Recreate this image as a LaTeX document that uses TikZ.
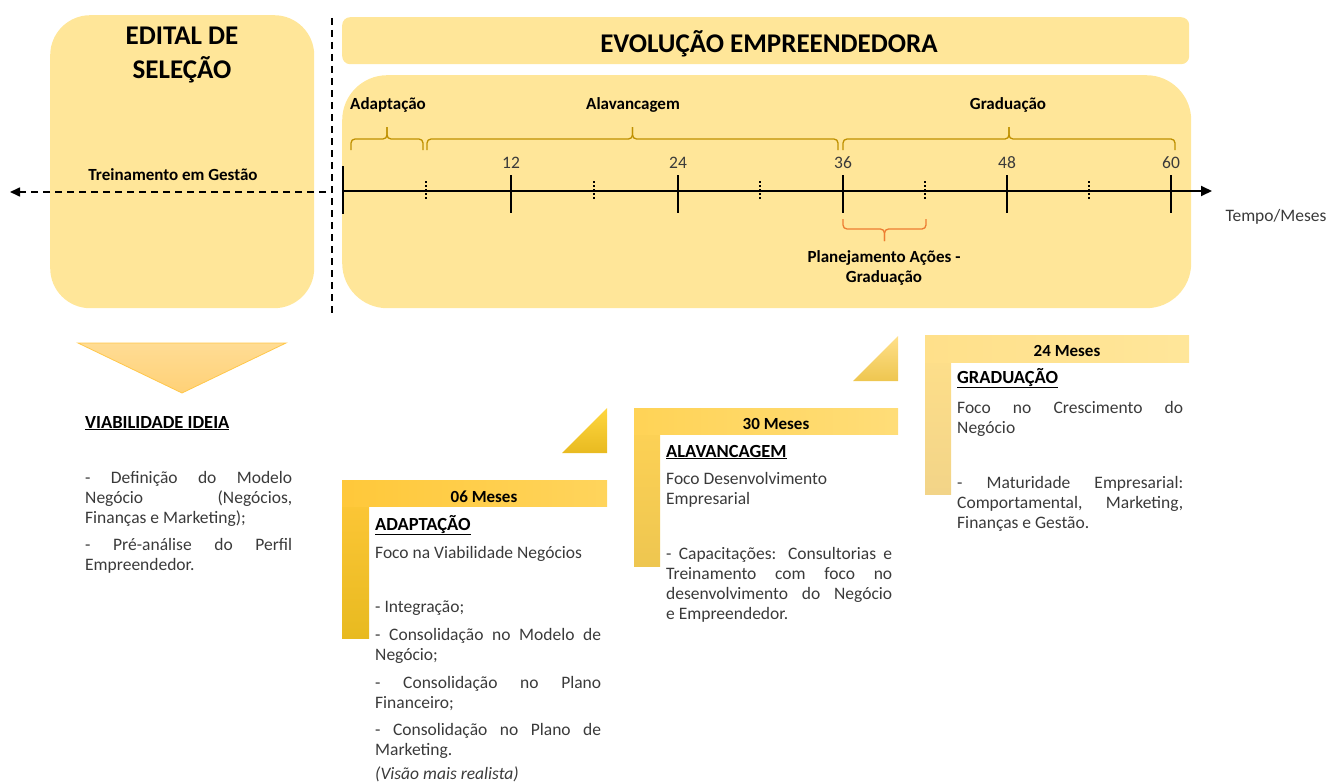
\documentclass[tikz,border=0pt]{standalone}
\usepackage{fontspec}
\setmainfont{Carlito}
\usetikzlibrary{arrows.meta}
\setlength\parindent{0pt}
\definecolor{panel}{HTML}{FFE699}
\definecolor{braceG}{HTML}{BF9000}
\definecolor{braceO}{HTML}{ED7D31}
\definecolor{txt}{HTML}{3A3A3A}
\definecolor{gA}{HTML}{FFC83A}
\definecolor{gAr}{HTML}{FFD45C}
\definecolor{gAm}{HTML}{FFCC1A}
\definecolor{gAb}{HTML}{E8BA20}
\definecolor{gB}{HTML}{FFD356}
\definecolor{gBr}{HTML}{FFDD78}
\definecolor{gBm}{HTML}{FFD740}
\definecolor{gBb}{HTML}{EEC650}
\definecolor{gC}{HTML}{FFE08A}
\definecolor{gCr}{HTML}{FFE69A}
\definecolor{gCm}{HTML}{FFDF7A}
\definecolor{gCb}{HTML}{F2D488}
\definecolor{triT}{HTML}{FFDC94}
\definecolor{triB}{HTML}{FFD177}
\definecolor{triE}{HTML}{FFC74A}
\newcommand\fsz[2]{\fontsize{#1}{#2}\selectfont}
\newcommand\fs{\rule{0pt}{15pt}}
\hyphenpenalty=10000
\exhyphenpenalty=10000
\begin{document}
\begin{tikzpicture}[x=1pt,y=-1pt,
  panelbox/.style={fill=panel, draw=none, anchor=north west, inner sep=0},
  title/.style={font=\fsz{27}{30}\bfseries, anchor=base, inner sep=0},
  lbl/.style={font=\fsz{17}{20}\bfseries, anchor=base, inner sep=0},
  num/.style={font=\fsz{17.5}{20}, text=txt, anchor=base, inner sep=0},
  head/.style={font=\fsz{18.5}{20}\bfseries, anchor=base west, inner sep=0},
  body/.style={anchor=north west, inner sep=0, align=justify, font=\fsz{17.5}{20}, text=txt},
  brG/.style={draw=braceG, line width=1.3pt, rounded corners=4pt},
  brO/.style={draw=braceO, line width=1.3pt, rounded corners=4pt},
  axis/.style={line width=1.8pt},
  majtick/.style={line width=1.8pt},
  mintick/.style={line width=1.6pt, dash pattern=on 2pt off 2pt},
  dashline/.style={line width=1.6pt, dash pattern=on 7pt off 5pt}
]
\useasboundingbox (0,0) rectangle (1328,784);

% panels
\node[panelbox, rounded corners=40pt, minimum width=264pt, minimum height=293pt] (edital) at (50,15) {};
\node[panelbox, rounded corners=8pt, minimum width=847pt, minimum height=47pt] (banner) at (342,17) {};
\node[panelbox, rounded corners=45pt, minimum width=849pt, minimum height=233pt] (evol) at (342,75) {};

% titles
\node[title] (t1) at (182,45) {EDITAL DE};
\node[title] (t2) at (182,78) {SELEÇÃO};
\node[title] (t3) at (769,53) {EVOLUÇÃO EMPREENDEDORA};
\node[lbl] (treino) at (173,180) {Treinamento em Gestão};

% separators
\coordinate (vtop) at (332,18);
\coordinate (vbot) at (332,315);
\draw[dashline] (vtop) -- (vbot);
\coordinate (dstart) at (326,192);
\coordinate (dend) at (10,192);
\draw[dashline, -{Triangle[length=10pt,width=9pt]}] (dstart) -- (dend);

% timeline
\coordinate (ax0) at (343,191);
\coordinate (axend) at (1212,191);
\draw[axis, -{Triangle[length=11pt,width=10pt]}] (ax0) -- (axend);
\coordinate (s0) at (343,166);
\coordinate (s1) at (343,214);
\draw[majtick] (s0) -- (s1);
\foreach \x/\n in {511/12,678/24,843/36,1007/48,1171/60}{
  \coordinate (tk\n a) at (\x,175);
  \coordinate (tk\n b) at (\x,213);
  \draw[majtick] (tk\n a) -- (tk\n b);
  \node[num] (n\n) at (\x,168.5) {\n};
}
\foreach \x [count=\i] in {426,594,760,925,1089}{
  \coordinate (mt\i a) at (\x,181);
  \coordinate (mt\i b) at (\x,200);
  \draw[mintick] (mt\i a) -- (mt\i b);
}

% braces (Word style: hooks, flat bar, small tip)
\foreach \a/\b/\nm in {351/423/ba, 427/838/bb, 843/1175/bc}{
  \pgfmathsetmacro\m{(\a+\b)/2}
  \coordinate (\nm L) at (\a,150);
  \coordinate (\nm R) at (\b,150);
  \coordinate (\nm T) at (\m,127);
  \draw[brG] (\nm L) -- (\a,139) -- (\m,139) -- (\nm T);
  \draw[brG] (\nm R) -- (\b,139) -- (\m,139) -- (\nm T);
}
\node[lbl] (ladapt) at (388,110) {Adaptação};
\node[lbl] (lalav) at (633,110) {Alavancagem};
\node[lbl] (lgrad) at (1008,110) {Graduação};
\coordinate (boL) at (843,219);
\coordinate (boR) at (926,219);
\coordinate (boT) at (884.5,241);
\draw[brO] (boL) -- (843,229) -- (884.5,229) -- (boT);
\draw[brO] (boR) -- (926,229) -- (884.5,229) -- (boT);
\node[lbl] (plan1) at (884,262.5) {Planejamento Ações -};
\node[lbl] (plan2) at (884,282.5) {Graduação};
\node[num] (tempo) at (1276,221.5) {Tempo/Meses};

% down triangle
\shadedraw[top color=triT, bottom color=triB, draw=triE, line width=0.8pt] (78,343) -- (286,343) -- (182,393) -- cycle;

% Viabilidade
\node[head] (hviab) at (85,428) {\underline{VIABILIDADE IDEIA}};
\node[body, text width=207pt] (bviab) at (85,468) {\fs- Definição do Modelo\linebreak Negócio (Negócios,\linebreak Finanças e Marketing);\\[7pt]- Pré-análise do Perfil\linebreak Empreendedor.};

% L shape 06 Meses
\shade[top color=gA, middle color=gAm, bottom color=gAb] (342,480) rectangle (369,638);
\shade[left color=gA, right color=gAr] (342,480) rectangle (607,506);
\shade[top color=gBm, bottom color=gAb] (562,453) -- (607,408) -- (607,453) -- cycle;
\node[lbl] (m06) at (484,502) {06 Meses};
\node[head] (hadapt) at (375,530) {\underline{ADAPTAÇÃO}};
\node[body, text width=226pt] (badapt) at (375,543) {\fs Foco na Viabilidade Negócios\\[34pt]- Integração;\\[8pt]- Consolidação no Modelo de\linebreak Negócio;\\[8pt]- Consolidação no Plano\linebreak Financeiro;\\[7pt]- Consolidação no Plano de\linebreak Marketing.\\[4pt]\textit{(Visão mais realista)}};

% L shape 30 Meses
\shade[top color=gB, middle color=gBm, bottom color=gBb] (634,408) rectangle (660,566);
\shade[left color=gB, right color=gBr] (634,408) rectangle (898,434);
\shade[top color=gC, bottom color=gBb] (853,381) -- (898,336) -- (898,381) -- cycle;
\node[lbl] (m30) at (776,429) {30 Meses};
\node[head] (halav) at (666,457) {\underline{ALAVANCAGEM}};
\node[body, text width=226pt] (balav) at (666,469) {\fs Foco Desenvolvimento\\Empresarial\\[35pt]- Capacitações: Consultorias e\linebreak Treinamento com foco no\linebreak desenvolvimento do Negócio\linebreak e Empreendedor.};

% L shape 24 Meses
\shade[top color=gC, middle color=gCm, bottom color=gCb] (925,335) rectangle (951,494);
\shade[left color=gC, right color=gCr] (925,335) rectangle (1189,362);
\node[lbl] (m24) at (1067,356) {24 Meses};
\node[head] (hgrad) at (957,383) {\underline{GRADUAÇÃO}};
\node[body, text width=226pt] (bgrad) at (957,398) {\fs Foco no Crescimento do\linebreak Negócio\\[35pt]- Maturidade Empresarial:\linebreak Comportamental, Marketing,\linebreak Finanças e Gestão.};
\end{tikzpicture}
\end{document}
